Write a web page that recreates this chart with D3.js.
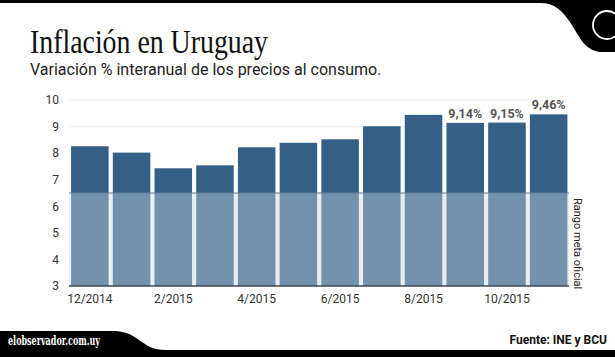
<!DOCTYPE html>
<html><head><meta charset="utf-8">
<script src="https://cdn.jsdelivr.net/npm/d3@7/dist/d3.min.js"></script>
<style>body{margin:0;background:#fff}svg{display:block}</style>
</head><body><svg id="c" width="615" height="357"></svg>
<script>
const categories = ["12/2014","1/2015","2/2015","3/2015","4/2015","5/2015","6/2015","7/2015","8/2015","9/2015","10/2015","11/2015"];
const values = [8.26, 8.02, 7.43, 7.54, 8.22, 8.39, 8.52, 9.01, 9.44, 9.14, 9.15, 9.46];
const valueLabels = ["","","","","","","","","","9,14%","9,15%","9,46%"];
const xTickLabels = ["12/2014","2/2015","4/2015","6/2015","8/2015","10/2015"];
const yTicks = [3,4,5,6,7,8,9,10];
const targetTop = 6.5;

const svg = d3.select("#c");
const x = d3.scaleBand().domain(categories).range([69, 569.5]).paddingInner(0.1).paddingOuter(0.05);
const y = d3.scaleLinear().domain([3, 10]).range([286, 100]);

// header
svg.append("rect").attr("x",0).attr("y",0).attr("width",615).attr("height",3).attr("fill","#000");
svg.append("path").attr("d","M530,0 L615,0 L615,52 L600,52 C585,50 580,38 572,25 C562,10 555,3 540,3 Z").attr("fill","#000");
svg.append("circle").attr("cx",607).attr("cy",25).attr("r",14).attr("fill","none").attr("stroke","#fff").attr("stroke-width",1.8);

// footer
svg.append("rect").attr("x",0).attr("y",350).attr("width",615).attr("height",7).attr("fill","#000");
svg.append("path").attr("d","M0,331 L112,331 C130,331 135,338 145,344 C152,349 158,350 170,350 L170,357 L0,357 Z").attr("fill","#000");
svg.append("text").attr("x",8).attr("y",345).attr("fill","#fff").attr("font-family","DejaVu Serif").attr("font-weight","bold").attr("font-size",13).attr("textLength",92).attr("lengthAdjust","spacingAndGlyphs").text("elobservador.com.uy");
svg.append("text").attr("x",607).attr("y",344).attr("text-anchor","end").attr("fill","#111").attr("font-family","Roboto").attr("font-weight","bold").attr("font-size",12).text("Fuente: INE y BCU");

// titles
svg.append("text").attr("x",30).attr("y",53).attr("fill","#111").attr("font-family","Liberation Serif").attr("font-size",33).attr("textLength",238).attr("lengthAdjust","spacingAndGlyphs").text("Inflación en Uruguay");
svg.append("text").attr("x",30).attr("y",75).attr("fill","#222").attr("font-family","Roboto").attr("font-size",16).text("Variación % interanual de los precios al consumo.");

// grid
svg.append("g").selectAll("line").data([9,10]).join("line")
  .attr("x1",69).attr("x2",569).attr("y1",d=>y(d)).attr("y2",d=>y(d)).attr("stroke","#f0f0f0").attr("stroke-width",1);

// target range background
svg.append("rect").attr("x",69).attr("width",500).attr("y",y(targetTop)).attr("height",y(3)-y(targetTop)).attr("fill","#e8eef4");

// bars
svg.append("g").selectAll("rect").data(values).join("rect")
  .attr("x",(d,i)=>x(categories[i])).attr("width",x.bandwidth())
  .attr("y",d=>y(d)).attr("height",d=>y(targetTop)-y(d)).attr("fill","#345f87");
svg.append("g").selectAll("rect").data(values).join("rect")
  .attr("x",(d,i)=>x(categories[i])).attr("width",x.bandwidth())
  .attr("y",y(targetTop)).attr("height",y(3)-y(targetTop)).attr("fill","#7392ad");
svg.append("line").attr("x1",69).attr("x2",569).attr("y1",y(targetTop)).attr("y2",y(targetTop)).attr("stroke","#5f7f9c").attr("stroke-width",1.2);

// value labels
svg.append("g").selectAll("text").data(values).join("text")
  .attr("x",(d,i)=>x(categories[i])+x.bandwidth()/2).attr("y",d=>y(d)-5)
  .attr("text-anchor","middle").attr("font-family","Roboto").attr("font-weight","bold").attr("font-size",12.5).attr("fill","#555")
  .text((d,i)=>valueLabels[i]);

// axes
const yAxis = d3.axisLeft(y).tickValues(yTicks).tickSize(0).tickPadding(0).tickFormat(d3.format("d"));
const gy = svg.append("g").attr("transform","translate(59,0)").call(yAxis);
gy.select(".domain").remove();
gy.selectAll("text").attr("font-family","Roboto").attr("font-size",12).attr("fill","#333");

const xAxis = d3.axisBottom(x).tickValues(xTickLabels).tickSize(0).tickPadding(8);
const gx = svg.append("g").attr("transform","translate(0,286)").call(xAxis);
gx.select(".domain").remove();
gx.selectAll("text").attr("font-family","Roboto").attr("font-size",12).attr("fill","#333");
svg.append("line").attr("x1",69).attr("x2",569).attr("y1",286).attr("y2",286).attr("stroke","#3d4650").attr("stroke-width",1.6);

// side label
svg.append("text").attr("transform","translate(574,198) rotate(90)").attr("font-family","Roboto").attr("font-size",11).attr("fill","#222").text("Rango meta oficial");
</script></body></html>
